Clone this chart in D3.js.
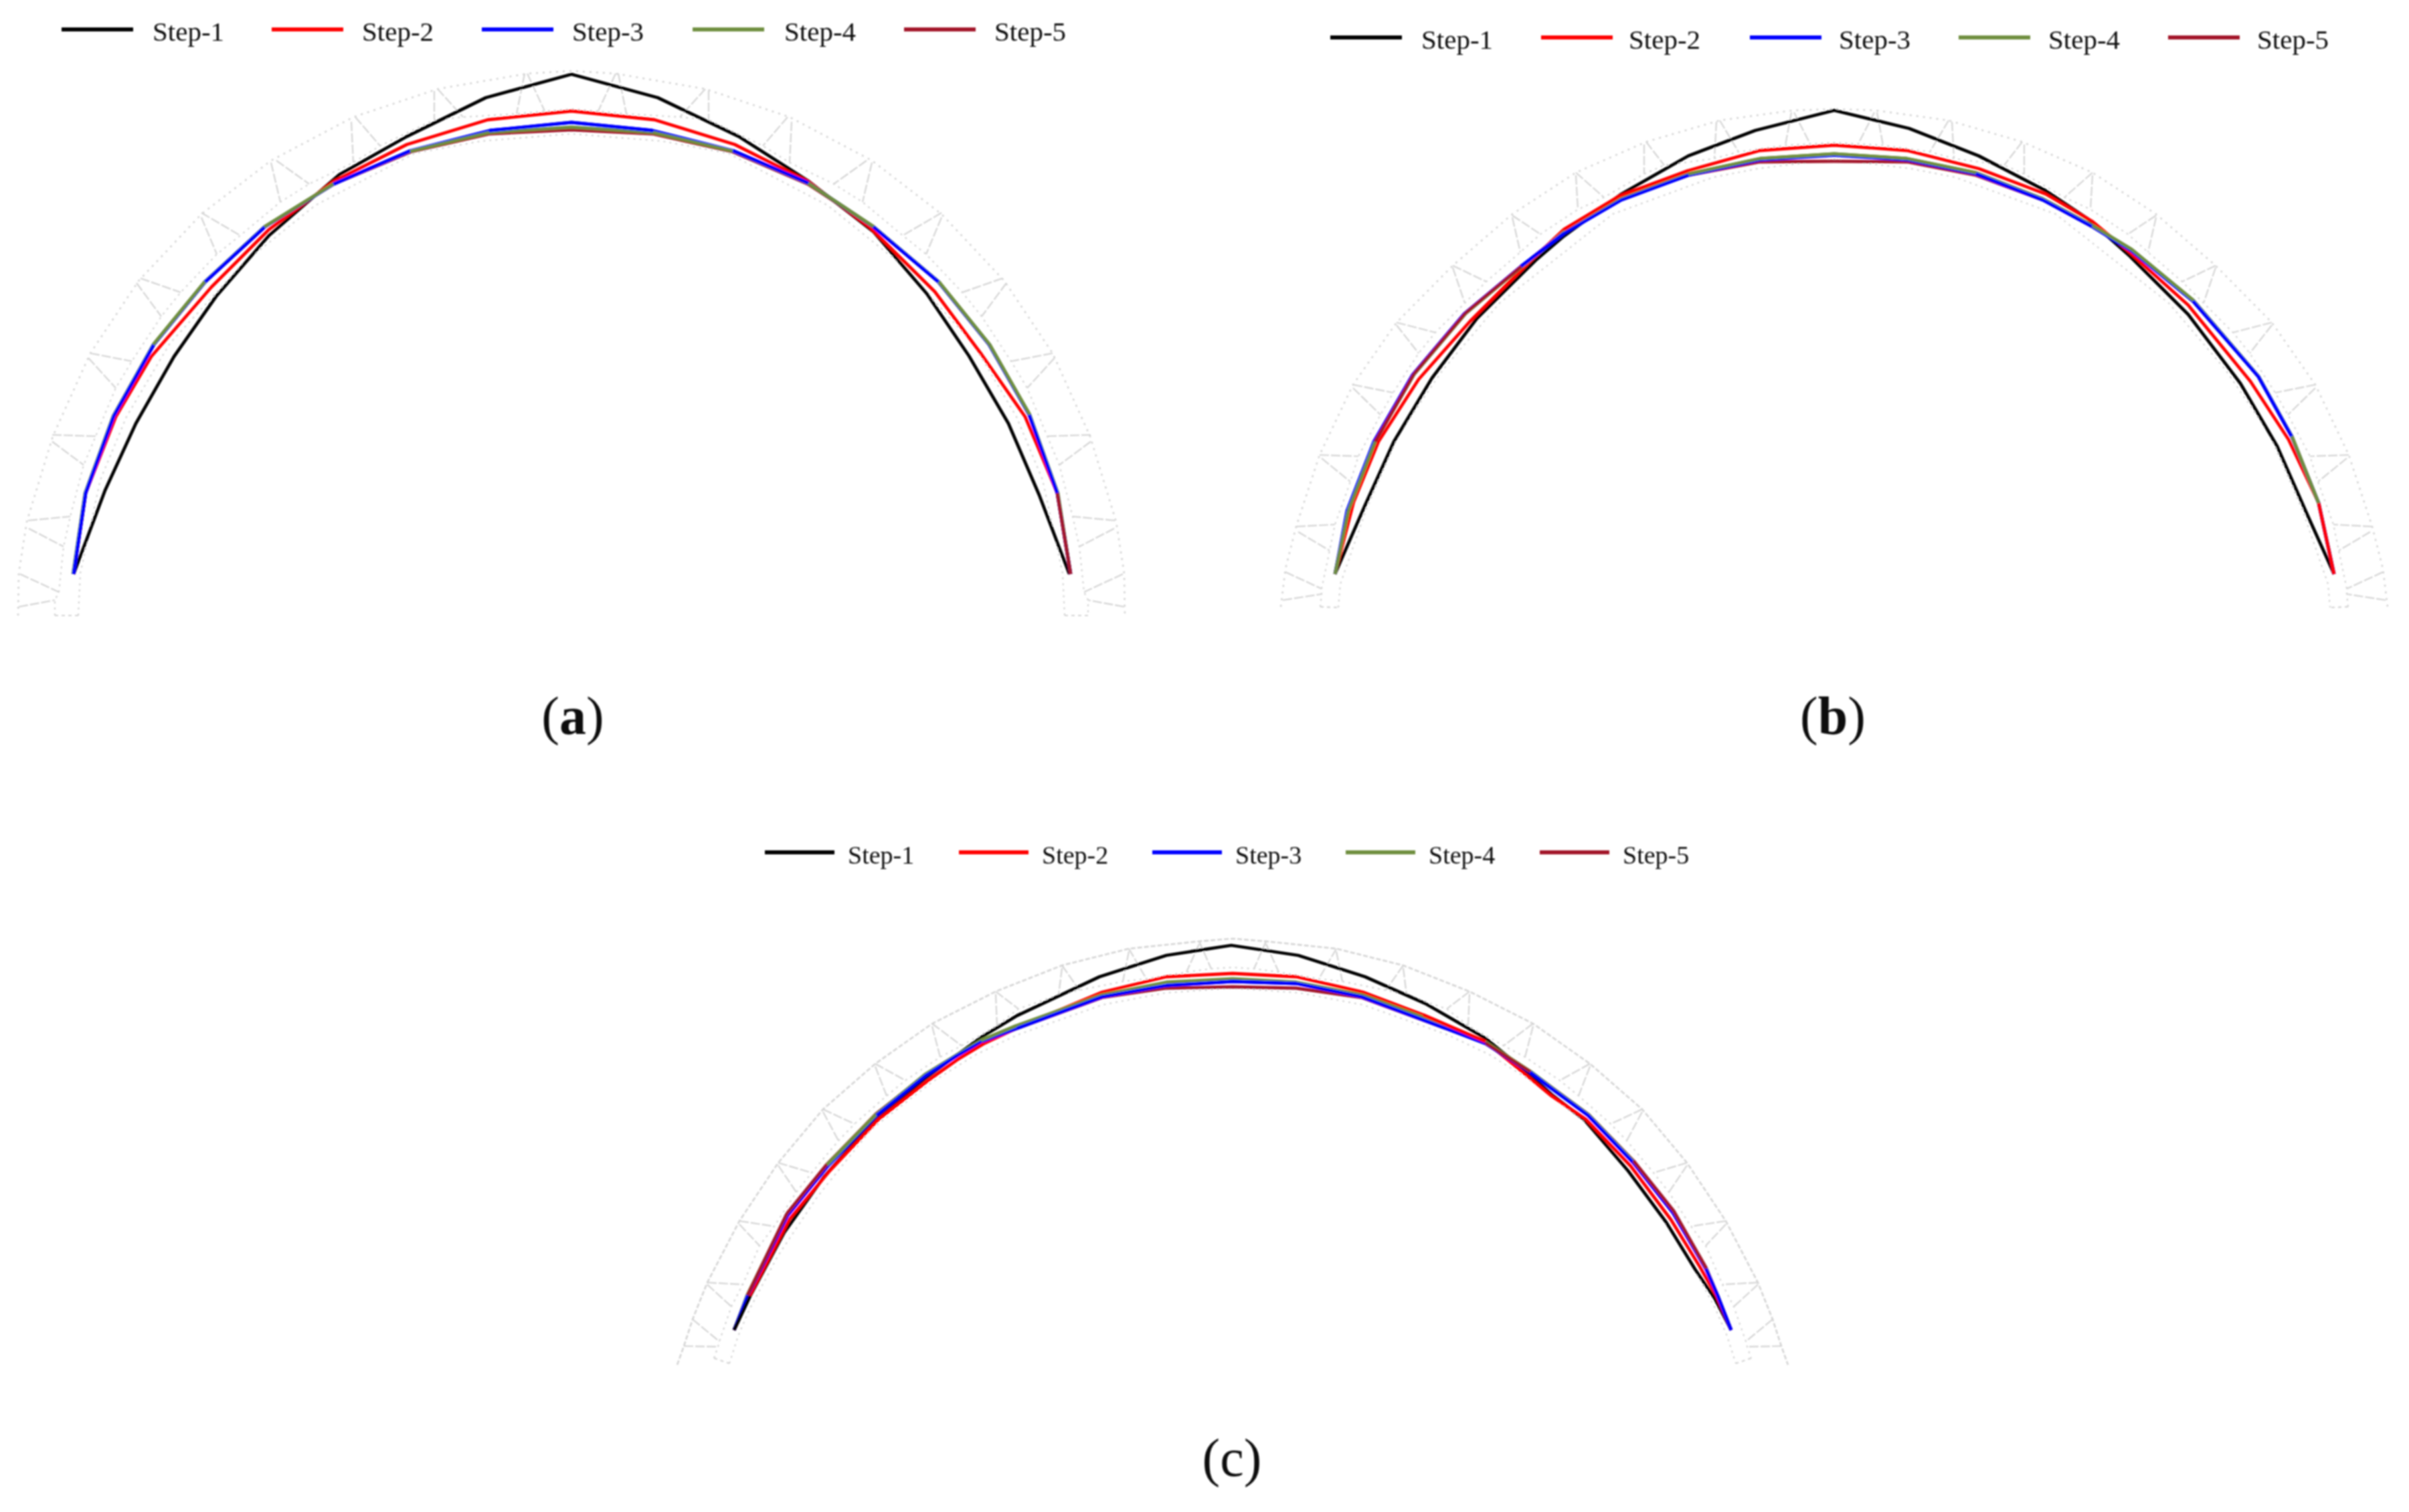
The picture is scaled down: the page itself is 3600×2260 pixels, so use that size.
<!DOCTYPE html>
<html>
<head>
<meta charset="utf-8">
<title>Arch shape steps</title>
<script src="https://cdn.jsdelivr.net/npm/d3@7"></script>
<style>
    html, body { margin: 0; background: #fff; }
    svg { display: block; }
    text { font-family: "Liberation Serif", serif; fill: #111; }
</style>
</head>
<body>
<svg id="chart" width="3600" height="2260"></svg>
<script>
const stepLabels = ['Step-1', 'Step-2', 'Step-3', 'Step-4', 'Step-5'];
const stepColors = ['#000000', '#ff0000', '#0000ff', '#6f8f3f', '#a3182c'];

// x = distance from crown, h = height above springing
const aX1 = [-744,-697,-651,-594,-531,-452,-347,-246,-128,0,129,250,353,451,531,594,653,699,744];
const aH1 = [0,125,225,325,415,506,597,654,712,747,712,654,588,512,419,326,225,118,0];
const aX2 = [-744,-726,-681,-628,-538,-452,-355,-246,-125,0,124,244,353,445,543,613,678,726,746];
const aH2 = [0,121,235,325,429,515,587,642,679,692,679,642,587,519,422,328,235,121,0];
const aX3 = [-744,-726,-684,-624,-547,-458,-355,-240,-122,0,121,241,353,451,548,624,684,726,746];
const aH3 = [0,121,236,343,437,519,583,633,663,675,663,633,585,519,437,343,238,121,0];
const aX4 = [-745,-727,-685,-625,-548,-459,-356,-241,-123,0,122,242,354,452,549,625,685,727,746];
const aH4 = [0,121,236,343,437,519,583,632,660,668,660,632,584,519,437,343,238,121,0];
const aX5 = [-744,-726,-684,-624,-547,-458,-355,-240,-122,0,121,241,353,451,548,624,684,726,746];
const aH5 = [0,121,236,343,437,519,583,631,658,664,658,631,583,519,437,343,238,121,0];
// which step ends up on top, per segment
const aTop = [3,3,3,4,3,4,3,4,3,3,4,3,4,3,4,4,3,5];

const bX1 = [-746,-701,-658,-601,-534,-446,-404,-318,-218,-118,0,112,216,316,379,442,529,607,662,706,747];
const bH1 = [0,103,198,293,382,469,505,568,625,663,693,666,625,573,531,475,388,285,191,91,0];
const bX2 = [-746,-718,-681,-621,-544,-459,-404,-321,-218,-111,0,109,216,316,386,439,529,622,679,724,747];
const bH2 = [0,108,198,291,378,463,515,565,603,633,641,633,606,568,527,483,402,288,201,106,0];
const bX3 = [-746,-728,-688,-630,-553,-468,-404,-318,-218,-111,0,109,212,312,386,444,537,634,684,724,747];
const bH3 = [0,95,198,298,389,460,509,559,596,619,626,619,598,559,519,483,407,295,205,106,0];
const bX4 = [-746,-726,-686,-628,-551,-466,-404,-318,-218,-111,0,109,212,312,386,445,537,634,684,724,747];
const bH4 = [0,95,198,298,389,460,511,561,598,621,628,621,600,561,521,485,409,296,206,106,0];
const bX5 = [-746,-726,-686,-628,-551,-466,-404,-318,-218,-111,0,109,212,312,386,445,537,634,684,724,747];
const bH5 = [0,95,198,299,390,461,511,561,596,616,617,616,596,559,519,483,407,295,205,106,0];
const bTop = [4,4,5,5,5,3,2,2,4,4,4,4,3,3,4,4,3,3,4,2];

const cX1 = [-745,-721,-670,-610,-537,-458,-412,-375,-322,-199,-99,-2,98,198,288,378,443,478,525,591,648,691,720,745];
const cH1 = [0,51,146,230,312,377,411,438,470,528,560,575,560,528,488,436,383,351,315,238,161,91,48,0];
const cX2 = [-745,-722,-662,-602,-529,-455,-410,-372,-319,-195,-99,0,95,195,285,378,445,475,528,595,655,698,723,745];
const cH2 = [0,51,166,238,315,373,405,428,453,505,528,533,528,505,471,431,376,351,315,245,165,95,51,0];
const cX3 = [-745,-725,-665,-605,-532,-459,-412,-375,-322,-195,-99,0,95,193,318,378,445,478,531,598,658,708,725,745];
const cH3 = [0,51,171,245,321,380,410,431,451,498,515,521,518,498,451,428,385,360,321,251,175,90,51,0];
const cX4 = [-745,-726,-666,-606,-533,-460,-413,-376,-323,-195,-99,0,95,194,319,379,446,479,532,599,659,708,725,745];
const cH4 = [0,51,173,247,322,382,411,433,455,501,520,525,520,501,455,430,386,361,322,252,177,91,51,0];
const cX5 = [-745,-725,-666,-606,-533,-459,-412,-375,-322,-195,-99,0,95,193,318,378,445,479,532,599,659,708,725,745];
const cH5 = [0,52,174,248,323,381,410,431,451,497,511,513,511,497,451,429,386,361,322,253,178,92,51,0];
const cTop = [1,5,5,4,3,3,2,4,3,3,3,3,3,3,2,5,3,3,3,5,5,3,3];

// truss outline, left half only; the right half mirrors it
const aOuter = [[-827,-62],[-826,1],[-814,78],[-775,206],[-719,330],[-647,438],[-553,538],[-449,618],[-326,683],[-200,725],[-66,748],[0,752]];
const aMiddle = [[-772,-62],[-772,-39],[-766,-27],[-759,41],[-749,86],[-729,163],[-711,206],[-681,278],[-657,318],[-613,385],[-584,421],[-530,478],[-495,506],[-435,556],[-392,583],[-326,615],[-286,640],[-205,679],[-162,683],[-82,688],[-40,692],[0,695]];
const aInner = [[-737,-62],[-734,1],[-704,141],[-665,235],[-600,345],[-490,465],[-383,551],[-234,629],[-136,647],[0,658]];
const aWebs = [[-826,-49,-772,-39],[-824,0,-766,-27],[-812,80,-749,86],[-811,68,-759,41],[-776,208,-711,206],[-776,198,-729,163],[-719,330,-657,318],[-722,323,-681,278],[-644,442,-584,421],[-650,435,-613,385],[-553,540,-495,506],[-553,533,-530,478],[-441,618,-392,583],[-449,615,-435,556],[-323,683,-286,640],[-329,676,-326,615],[-200,725,-162,683],[-205,722,-205,679],[-66,748,-40,692],[-70,748,-82,688]];

const bOuter = [[-827,-49],[-820,8],[-804,71],[-769,178],[-719,283],[-654,376],[-570,461],[-481,538],[-386,600],[-281,646],[-171,678],[-62,693],[0,695]];
const bMiddle = [[-768,-49],[-766,-30],[-766,-22],[-754,35],[-746,74],[-723,138],[-711,176],[-678,238],[-659,271],[-621,330],[-596,361],[-552,405],[-520,437],[-469,481],[-439,508],[-383,545],[-344,563],[-284,598],[-254,611],[-179,621],[-143,631],[-73,641],[-36,643],[0,645]];
const bInner = [[-741,-50],[-738,-15],[-700,95],[-650,210],[-585,305],[-500,405],[-331,538],[-181,593],[-114,606],[0,620]];
const bWebs = [[-824,-39,-766,-30],[-820,3,-766,-22],[-804,71,-746,74],[-801,63,-754,35],[-769,178,-711,176],[-766,173,-723,138],[-719,283,-659,271],[-719,278,-678,238],[-654,376,-596,361],[-654,372,-621,330],[-570,461,-520,437],[-570,458,-552,405],[-481,536,-439,508],[-481,533,-469,481],[-386,600,-344,563],[-386,596,-383,545],[-281,646,-254,611],[-284,642,-284,598],[-171,678,-143,631],[-176,676,-179,621],[-60,690,-36,643],[-64,690,-73,641]];

const cOuter = [[-830,-52],[-820,-24],[-807,16],[-785,71],[-737,163],[-679,250],[-612,330],[-534,398],[-449,458],[-354,506],[-255,545],[-155,570],[-50,581],[0,585]];
const cMiddle = [[-775,-42],[-769,-25],[-767,-17],[-749,35],[-732,68],[-707,126],[-685,155],[-652,206],[-629,235],[-589,283],[-565,308],[-517,350],[-489,373],[-437,408],[-405,425],[-352,455],[-320,480],[-260,501],[-229,508],[-164,521],[-129,525],[-69,535],[-32,540],[0,542]];
const cInner = [[-752,-50],[-739,-9],[-722,31],[-680,110],[-620,200],[-540,300],[-450,370],[-385,411],[-322,441],[-195,486],[-100,504],[0,511]];
const cWebs = [[-820,-24,-769,-25],[-807,16,-767,-17],[-785,71,-732,68],[-785,68,-749,35],[-737,163,-685,155],[-737,158,-707,126],[-679,250,-629,235],[-679,246,-652,206],[-612,330,-565,308],[-612,326,-589,283],[-534,398,-489,373],[-534,394,-517,350],[-449,458,-405,425],[-449,454,-437,408],[-354,506,-320,480],[-354,502,-352,455],[-255,545,-229,508],[-255,541,-260,501],[-155,570,-129,525],[-155,566,-164,521],[-50,581,-32,540],[-50,577,-69,535]];

const panels = [
    {
        crown: 854, springing: 858, series: [[aX1,aH1],[aX2,aH2],[aX3,aH3],[aX4,aH4],[aX5,aH5]], top: aTop,
        outer: aOuter, middle: aMiddle, inner: aInner, webs: aWebs, outerDash: '3 7',
        legendY: 44, legendLines: [92, 406, 720, 1035, 1351], legendW: 107, legendText: [228, 541, 855, 1172, 1486],
        fontSize: 41, letter: 'a', letterBold: true, captionX: 856, captionY: 1097
    },
    {
        crown: 2741, springing: 858, series: [[bX1,bH1],[bX2,bH2],[bX3,bH3],[bX4,bH4],[bX5,bH5]], top: bTop,
        outer: bOuter, middle: bMiddle, inner: bInner, webs: bWebs, outerDash: '3 7',
        legendY: 56, legendLines: [1988, 2303, 2615, 2927, 3240], legendW: 107, legendText: [2124, 2434, 2748, 3061, 3373],
        fontSize: 41, letter: 'b', letterBold: true, captionX: 2739, captionY: 1097
    },
    {
        crown: 1842, springing: 1988, series: [[cX1,cH1],[cX2,cH2],[cX3,cH3],[cX4,cH4],[cX5,cH5]], top: cTop,
        outer: cOuter, middle: cMiddle, inner: cInner, webs: cWebs, outerDash: '7 3',
        legendY: 1274, legendLines: [1143, 1433, 1722, 2011, 2301], legendW: 104, legendText: [1267, 1557, 1846, 2135, 2425],
        fontSize: 38, letter: 'c', letterBold: false, captionX: 1841, captionY: 2206
    }
];

const svg = d3.select('#chart');

const defs = svg.append('defs');
defs.append('filter').attr('id', 'soft')
    .attr('x', '-2%').attr('y', '-2%').attr('width', '104%').attr('height', '104%')
    .append('feGaussianBlur').attr('stdDeviation', 0.8);

const root = svg.append('g').attr('filter', 'url(#soft)');

// left half + mirrored right half
function mirrored(points) {
    const right = points.slice(0, -1).reverse().map(p => [-p[0], p[1]]);
    return points.concat(right);
}

panels.forEach(panel => {
    const g = root.append('g');

    const x = d3.scaleLinear().domain([-850, 850]).range([panel.crown - 850, panel.crown + 850]);
    const y = d3.scaleLinear().domain([-100, 800]).range([panel.springing + 100, panel.springing - 800]);
    const line = d3.line().x(d => x(d[0])).y(d => y(d[1]));

    // truss behind the curves
    const truss = g.append('g').attr('fill', 'none').attr('stroke', '#d4d4d4');

    truss.append('path')
        .attr('d', line(mirrored(panel.outer)))
        .attr('stroke-width', 2.6)
        .attr('stroke-dasharray', panel.outerDash);

    [panel.middle, panel.inner].forEach(chord => {
        truss.append('path')
            .attr('d', line(mirrored(chord)))
            .attr('stroke-width', 2.2)
            .attr('stroke-dasharray', '3 6');
    });

    // foot of the rib under the support
    [1, -1].forEach(side => {
        const midEnd = panel.middle[0];
        const innerEnd = panel.inner[0];
        truss.append('path')
            .attr('d', line([[side * midEnd[0], midEnd[1]], [side * innerEnd[0], innerEnd[1]]]))
            .attr('stroke-width', 2.2)
            .attr('stroke-dasharray', '5 5');
    });

    const webData = panel.webs.concat(panel.webs.map(w => [-w[0], w[1], -w[2], w[3]]));
    truss.selectAll('line.web')
        .data(webData)
        .enter().append('line')
        .attr('class', 'web')
        .attr('x1', d => x(d[0]))
        .attr('y1', d => y(d[1]))
        .attr('x2', d => x(d[2]))
        .attr('y2', d => y(d[3]))
        .attr('stroke-width', 2.2)
        .attr('stroke-dasharray', '14 3');

    // the five curves, then the segments that lie on top in the picture
    const curves = panel.series.map(s => s[0].map((v, i) => [v, s[1][i]]));
    g.selectAll('path.step')
        .data([0, 1, 4, 3, 2])
        .enter().append('path')
        .attr('class', 'step')
        .attr('fill', 'none')
        .attr('stroke', i => stepColors[i])
        .attr('stroke-width', 4.8)
        .attr('stroke-linejoin', 'round')
        .attr('d', i => line(curves[i]));

    g.selectAll('path.top')
        .data(panel.top)
        .enter().append('path')
        .attr('class', 'top')
        .attr('fill', 'none')
        .attr('stroke', s => stepColors[s - 1])
        .attr('stroke-width', 4.8)
        .attr('d', (s, i) => line(curves[s - 1].slice(i, i + 2)));

    // legend
    stepLabels.forEach((label, i) => {
        g.append('line')
            .attr('x1', panel.legendLines[i])
            .attr('x2', panel.legendLines[i] + panel.legendW)
            .attr('y1', panel.legendY)
            .attr('y2', panel.legendY)
            .attr('stroke', stepColors[i])
            .attr('stroke-width', 6);
        g.append('text')
            .attr('x', panel.legendText[i])
            .attr('y', panel.legendY + 17)
            .attr('font-size', panel.fontSize)
            .text(label);
    });

    // caption
    const caption = g.append('text')
        .attr('x', panel.captionX)
        .attr('y', panel.captionY)
        .attr('text-anchor', 'middle')
        .attr('font-size', 80);
    caption.append('tspan').text('(');
    caption.append('tspan').attr('font-weight', panel.letterBold ? 700 : 400).text(panel.letter);
    caption.append('tspan').text(')');
});
</script>
</body>
</html>
